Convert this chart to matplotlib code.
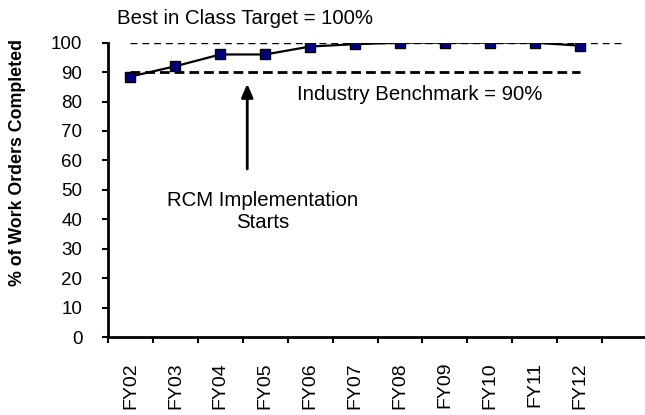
import matplotlib
matplotlib.use("Agg")
import matplotlib.pyplot as plt

# ======================================

# Data

# ======================================

years = ["FY02", "FY03", "FY04", "FY05", "FY06", "FY07",
         "FY08", "FY09", "FY10", "FY11", "FY12"]
pct_completed = [88.5, 92.0, 96.0, 96.0, 98.7, 99.5,
                 100.0, 100.0, 100.0, 100.0, 99.0]
best_in_class = 100
benchmark = 90
y_ticks = [0, 10, 20, 30, 40, 50, 60, 70, 80, 90, 100]

# ======================================

# Figure

# ======================================

plt.rcParams["font.family"] = ["Liberation Sans", "DejaVu Sans"]

fig = plt.figure(figsize=(6.45, 4.15), dpi=100)
ax = fig.add_axes([108 / 645, 1 - 337 / 415, 539 / 645, (337 - 42.7) / 415])

x = list(range(len(years)))

# reference lines
ax.plot([0, len(years)], [best_in_class, best_in_class],
        color="black", lw=1, dashes=(5, 3.5), zorder=1)
ax.plot([0, len(years) - 1], [benchmark, benchmark],
        color="black", lw=2, dashes=(3.5, 1.8), zorder=1)

# main series
ax.plot(x, pct_completed, color="black", lw=1.6,
        marker="s", markersize=7.5, markerfacecolor="#000080",
        markeredgecolor="black", markeredgewidth=1.0, zorder=3)

# ======================================

# Axes

# ======================================

ax.set_xlim(-0.5, len(years) + 0.5)
ax.set_ylim(0, 100)

ax.spines["top"].set_visible(False)
ax.spines["right"].set_visible(False)
ax.spines["left"].set_linewidth(2)
ax.spines["bottom"].set_linewidth(2)

ax.set_xticks([i - 0.5 for i in range(len(years) + 1)])
ax.set_xticklabels([])
ax.set_xticks(x, minor=True)
ax.set_xticklabels(years, minor=True, rotation=90, fontsize=14)
ax.tick_params(axis="x", which="major", direction="out", length=4.5, width=1.5)
ax.tick_params(axis="x", which="minor", length=0, pad=18)

ax.set_yticks(y_ticks)
ax.set_yticklabels([str(v) for v in y_ticks], fontsize=13.5)
ax.tick_params(axis="y", direction="out", length=4.5, width=1.5, pad=14)

fig.text(17.5 / 645, 1 - 162 / 415, "% of Work Orders Completed",
         rotation=90, ha="center", va="center",
         fontsize=12.8, fontweight="bold")

# ======================================

# Annotations

# ======================================

ax.text(-0.3, 106.5, "Best in Class Target = 100%",
        fontsize=14.7, ha="left", va="baseline", clip_on=False)
ax.text(3.7, 80.6, "Industry Benchmark = 90%",
        fontsize=14.7, ha="left", va="baseline")
ax.text(2.95, 44.6, "RCM Implementation",
        fontsize=14.7, ha="center", va="baseline")
ax.text(2.95, 37.1, "Starts",
        fontsize=14.7, ha="center", va="baseline")

ax.annotate("", xy=(2.6, 86.0), xytext=(2.6, 57.1),
            arrowprops=dict(arrowstyle="-|>,head_length=0.8,head_width=0.35",
                            color="black", lw=2, shrinkA=0, shrinkB=0))

plt.savefig("out.png", dpi=100)
plt.close()
